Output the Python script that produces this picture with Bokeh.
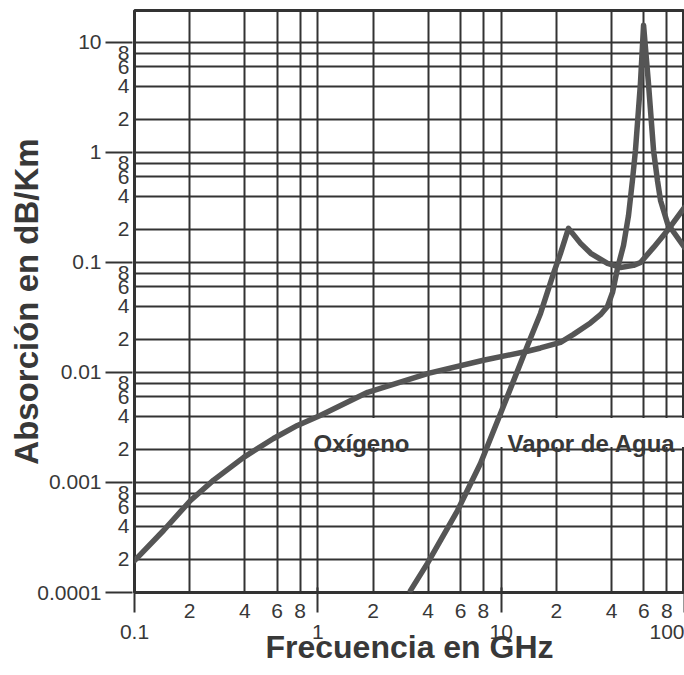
from bokeh.plotting import figure
from bokeh.models import LogAxis, FixedTicker, Range1d, Label, BoxAnnotation
from bokeh.embed import file_html
from bokeh.resources import INLINE

# ---------------- data ----------------
oxy_freq = [0.1, 0.144, 0.202, 0.27, 0.394, 0.573, 0.774, 1.03, 1.87, 4.0, 8.0,
            13.9, 16.39, 21.07, 24.8, 30.7, 34.8, 38.0, 40.5, 43.1, 46.5, 49.5,
            52.0, 54.0, 57.5, 59.8, 63.6, 67.8, 71.2, 74.0, 80.8, 100.0]
oxy_att = [1.95e-4, 3.66e-4, 6.86e-4, 1.05e-3, 1.69e-3, 2.51e-3, 3.3e-3, 4.07e-3,
           6.6e-3, 9.8e-3, 0.0129, 0.0156, 0.0167, 0.0188, 0.0222, 0.0282, 0.0335,
           0.0398, 0.0534, 0.0882, 0.143, 0.267, 0.556, 1.04, 4.24, 14.3, 4.24,
           1.04, 0.556, 0.366, 0.226, 0.137]

wat_freq = [3.20, 3.96, 5.78, 7.71, 9.92, 12.75, 13.92, 16.39, 19.30, 21.07, 23.29,
            27.1, 30.8, 38.0, 44.8, 52.7, 57.6, 67.8, 80.7, 100.0]
wat_att = [1.04e-4, 1.84e-4, 5.56e-4, 1.49e-3, 4.24e-3, 0.0121, 0.0176, 0.0344,
           0.0794, 0.121, 0.204, 0.149, 0.121, 0.098, 0.090, 0.094, 0.100, 0.137,
           0.195, 0.317]

x_decades = [0.1, 1.0, 10.0, 100.0]
x_decade_labels = ["0.1", "1", "10", "100"]
x_minor = [0.2, 0.4, 0.6, 0.8, 2.0, 4.0, 6.0, 8.0, 20.0, 40.0, 60.0, 80.0]
x_minor_labels = ["2", "4", "6", "8", "2", "4", "6", "8", "2", "4", "6", "8"]

y_decades = [0.0001, 0.001, 0.01, 0.1, 1.0, 10.0]
y_decade_labels = ["0.0001", "0.001", "0.01", "0.1", "1", "10"]
y_minor = [0.0002, 0.0004, 0.0006, 0.0008,
           0.002, 0.004, 0.006, 0.008,
           0.02, 0.04, 0.06, 0.08,
           0.2, 0.4, 0.6, 0.8,
           2.0, 4.0, 6.0, 8.0]
y_minor_labels = ["2", "4", "6", "8"] * 5

curve_names = ["Oxígeno", "Vapor de Agua"]
x_title = "Frecuencia en GHz"
y_title = "Absorción en dB/Km"

# ---------------- styles ----------------
GRID = "#333333"
CURVE = "#555555"
TEXT = "#383838"
FONT = "Liberation Sans"

p = figure(width=684, height=675, x_axis_type="log", y_axis_type="log",
           x_range=Range1d(0.1, 100), y_range=Range1d(1e-4, 19.5),
           x_axis_location=None, y_axis_location=None,
           output_backend="svg", toolbar_location=None,
           min_border_left=134, min_border_right=0,
           min_border_top=10, min_border_bottom=83)
p.background_fill_color = "white"
p.border_fill_color = "white"
p.outline_line_color = GRID
p.outline_line_width = 3

for g in p.xgrid:
    g.ticker = FixedTicker(ticks=sorted(x_decades + x_minor))
    g.grid_line_color = GRID
    g.grid_line_width = 2
for g in p.ygrid:
    g.ticker = FixedTicker(ticks=sorted(y_decades + y_minor))
    g.grid_line_color = GRID
    g.grid_line_width = 2

# white boxes behind the curve names (hide the grid under the text)
box1 = BoxAnnotation(left=0.89, right=3.72, bottom=2.1e-3, top=3.85e-3,
                     fill_color="white", fill_alpha=1, line_color=None, level="underlay")
box2 = BoxAnnotation(left=9.3, right=100, bottom=2.1e-3, top=3.85e-3,
                     fill_color="white", fill_alpha=1, line_color=None, level="underlay")
p.add_layout(box1)
p.add_layout(box2)

p.line(oxy_freq, oxy_att, line_color=CURVE, line_width=5.5, line_join="round", line_cap="round")
p.line(wat_freq, wat_att, line_color=CURVE, line_width=5.5, line_join="round", line_cap="round")

p.add_layout(Label(x=0.947, y=2.26e-3, text=curve_names[0], text_font=FONT,
                   text_font_style="bold", text_font_size="24px", text_color=TEXT,
                   text_baseline="alphabetic"))
p.add_layout(Label(x=10.83, y=2.26e-3, text=curve_names[1], text_font=FONT,
                   text_font_style="bold", text_font_size="24px", text_color=TEXT,
                   text_baseline="alphabetic"))

def style_labels(ax, size="20px"):
    ax.major_label_text_font = FONT
    ax.major_label_text_font_size = size
    ax.major_label_text_color = TEXT
    ax.axis_line_color = None
    ax.minor_tick_in = 0
    ax.minor_tick_out = 0
    ax.major_tick_line_color = GRID
    ax.major_tick_line_width = 2

# --- y axes: inner (2,4,6,8), outer (decades + title)
yA = LogAxis(ticker=FixedTicker(ticks=y_minor),
             major_label_overrides=dict(zip(y_minor, y_minor_labels)))
style_labels(yA, "21px")
yA.major_tick_in = 0
yA.major_tick_out = 0
yA.major_label_standoff = 5
p.add_layout(yA, "left")

yB = LogAxis(ticker=FixedTicker(ticks=y_decades),
             major_label_overrides=dict(zip(y_decades, y_decade_labels)))
style_labels(yB, "21px")
yB.major_tick_in = 18
yB.major_tick_out = 9
yB.major_label_standoff = 4
yB.axis_label = y_title
yB.axis_label_text_font = FONT
yB.axis_label_text_font_style = "bold"
yB.axis_label_text_font_size = "33px"
yB.axis_label_text_color = TEXT
yB.axis_label_standoff = -11
p.add_layout(yB, "left")

# --- x axes: inner (2,4,6,8), outer (decades + title)
xA = LogAxis(ticker=FixedTicker(ticks=x_minor),
             major_label_overrides=dict(zip(x_minor, x_minor_labels)))
style_labels(xA, "21px")
xA.major_tick_in = 0
xA.major_tick_out = 0
xA.major_label_standoff = 11
p.add_layout(xA, "below")

xB = LogAxis(ticker=FixedTicker(ticks=x_decades),
             major_label_overrides=dict(zip(x_decades, x_decade_labels)))
style_labels(xB, "21px")
xB.major_tick_in = 33
xB.major_tick_out = -8
xB.major_label_standoff = 4
xB.axis_label = x_title
xB.axis_label_text_font = FONT
xB.axis_label_text_font_style = "bold"
xB.axis_label_text_font_size = "32px"
xB.axis_label_text_color = TEXT
xB.axis_label_standoff = -13
p.add_layout(xB, "below")

open("out.html", "w").write(file_html(p, INLINE))
